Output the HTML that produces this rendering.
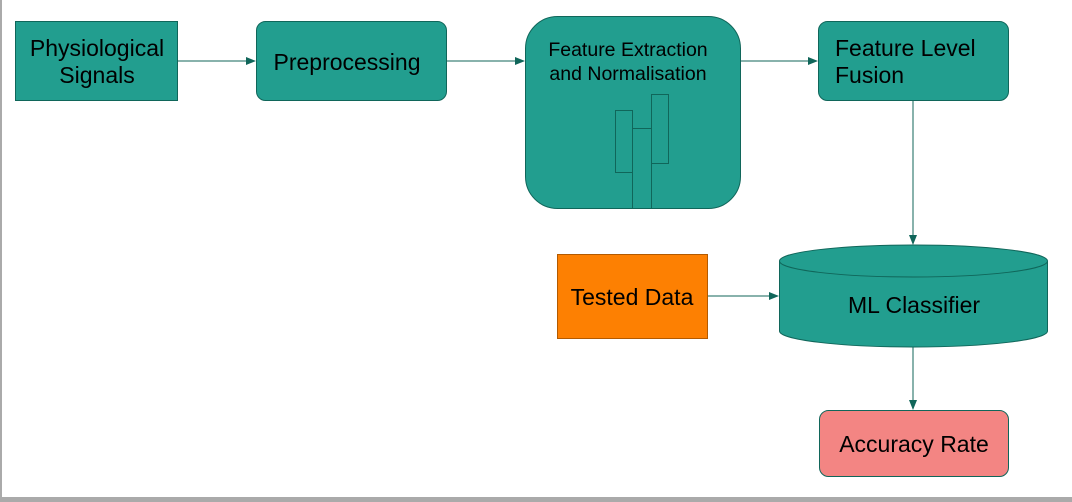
<!DOCTYPE html>
<html><head><style>html,body{margin:0;padding:0;background:#fff}svg{display:block}</style></head>
<body>
<svg width="1072" height="502" viewBox="0 0 1072 502" xmlns="http://www.w3.org/2000/svg" font-family="Liberation Sans, sans-serif">
<defs><marker id="a" markerWidth="10" markerHeight="8" refX="9" refY="4" orient="auto" markerUnits="userSpaceOnUse"><path d="M0,0 L10,4 L0,8 z" fill="#10665a"/></marker></defs>
<rect x="0" y="0" width="2" height="502" fill="#aaa"/>
<rect x="0" y="497" width="1072" height="5" fill="#aaa"/>
<g stroke="#10665a" stroke-width="1" fill="none">
<line x1="178" y1="61" x2="255" y2="61" marker-end="url(#a)"/>
<line x1="446" y1="61" x2="524" y2="61" marker-end="url(#a)"/>
<line x1="740" y1="61" x2="817" y2="61" marker-end="url(#a)"/>
<line x1="913" y1="101" x2="913" y2="244" marker-end="url(#a)"/>
<line x1="707" y1="296" x2="778" y2="296" marker-end="url(#a)"/>
<line x1="913" y1="347" x2="913" y2="409" marker-end="url(#a)"/>
</g>
<g fill="#229e8f" stroke="#10665a" stroke-width="1">
<rect x="15.5" y="21.5" width="162" height="79"/>
<rect x="256.5" y="21.5" width="190" height="79" rx="9"/>
<rect x="525.5" y="16.5" width="215" height="192" rx="32"/>
<rect x="818.5" y="21.5" width="190" height="79" rx="9"/>
<path d="M779.5,261 A134,16 0 0 1 1047.5,261 L1047.5,331 A134,16 0 0 1 779.5,331 Z"/>
<path d="M779.5,261 A134,16 0 0 0 1047.5,261" fill="none"/>
<rect x="615.5" y="110.5" width="17" height="62" fill="none"/>
<rect x="651.5" y="94.5" width="17" height="69" fill="none"/>
<path d="M632.5,208 L632.5,128.5 L651.5,128.5 L651.5,208" fill="none"/>
</g>
<rect x="557.5" y="254.5" width="150" height="84" fill="#fd8002" stroke="#b35a00"/>
<rect x="819.5" y="410.5" width="189" height="66" rx="9" fill="#f38583" stroke="#10665a"/>
<g fill="#000" font-size="23" text-anchor="middle">
<text x="97" y="56">Physiological</text>
<text x="97" y="83">Signals</text>
<text x="347" y="70">Preprocessing</text>
<text x="628" y="56" font-size="19.5">Feature Extraction</text>
<text x="628" y="80" font-size="19.5">and Normalisation</text>
<text x="835" y="56" text-anchor="start">Feature Level</text>
<text x="835" y="83" text-anchor="start">Fusion</text>
<text x="914" y="313">ML Classifier</text>
<text x="632" y="305">Tested Data</text>
<text x="914" y="452">Accuracy Rate</text>
</g>
</svg>
</body></html>
